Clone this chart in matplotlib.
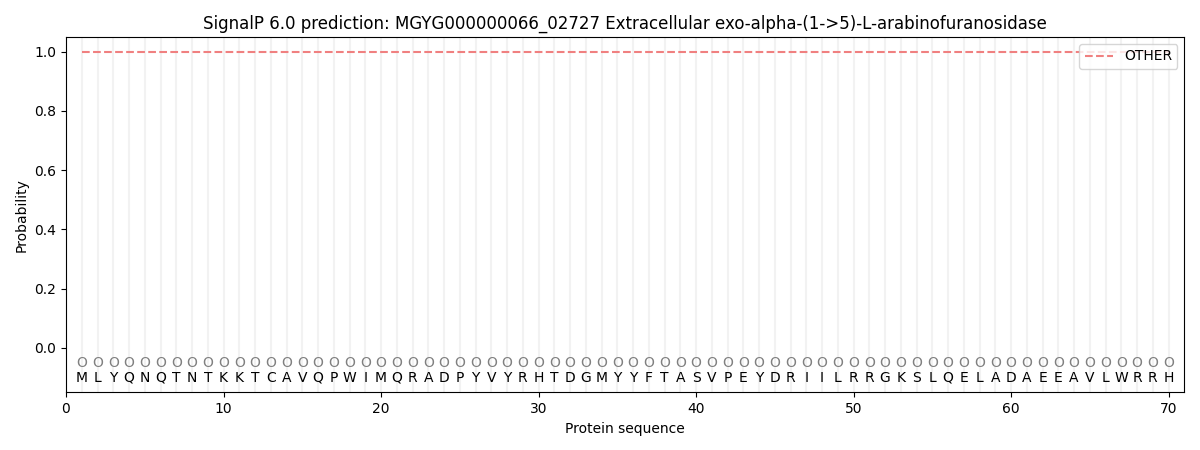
import matplotlib
matplotlib.use("Agg")
import matplotlib.pyplot as plt
import numpy as np

# sequence and per-residue predictions
sequence = list("MLYQNQTNTKKTCAVQPWIMQRADPYVYRHTDGMYYFTASVPEYDRIILRRGKSLQELADAEEAVLWRRH")
labels = ["O"] * len(sequence)
prob_other = [1.0] * len(sequence)

positions = np.arange(1, len(sequence) + 1)

fig, ax = plt.subplots(figsize=(12, 4.5), dpi=100)

# light vertical line per residue
for p in positions:
    ax.axvline(p, color="#f2f2f2", linewidth=1.5, zorder=0)

ax.plot(positions, prob_other, linestyle="--", color="#f08080", linewidth=1.5, label="OTHER")

for p, lab, aa in zip(positions, labels, sequence):
    ax.text(p, -0.05, lab, ha="center", va="center", fontsize=10, color="gray")
    ax.text(p, -0.1, aa, ha="center", va="center", fontsize=10, color="black")

ax.set_xlim(0, 71)
ax.set_ylim(-0.15, 1.05)
ax.set_yticks([0.0, 0.2, 0.4, 0.6, 0.8, 1.0])
ax.set_xlabel("Protein sequence")
ax.set_ylabel("Probability")
ax.set_title("SignalP 6.0 prediction: MGYG000000066_02727 Extracellular exo-alpha-(1->5)-L-arabinofuranosidase")
ax.legend(loc="upper right")

plt.subplots_adjust(left=0.055, right=0.987, top=0.918, bottom=0.128)
plt.savefig("out.png")
